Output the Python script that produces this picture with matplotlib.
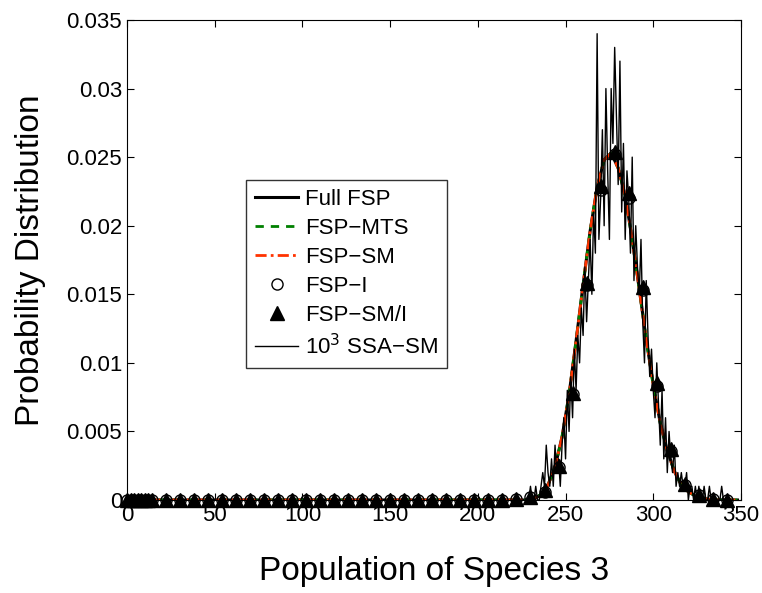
import numpy as np
import matplotlib.pyplot as plt
from matplotlib.ticker import FormatStrFormatter, MultipleLocator

plt.rcParams['font.family'] = ['Liberation Sans', 'DejaVu Sans']

# full FSP solution, every 4 molecules
fsp_x = np.arange(0, 352, 4)
fsp_p = [0.0] * 57 + [
    0.0, 0.0001, 0.0004, 0.0011, 0.0024, 0.0046, 0.0077, 0.0116,
    0.0157, 0.0196, 0.0228, 0.0248, 0.0253, 0.0242, 0.0222, 0.0190,
    0.0154, 0.0117, 0.0084, 0.0056, 0.0036, 0.0021, 0.0011, 0.0006,
    0.0003, 0.0001, 0.00005, 0.0, 0.0, 0.0, 0.0,
]

# marker points (FSP-I and FSP-SM/I)
mk_x = [0, 2, 4, 6, 8, 10, 12, 14] + list(range(22, 343, 8))
mk_i = [0.0] * 33 + [
    0.00005, 0.0002, 0.0006, 0.0024, 0.0077, 0.0157, 0.0226, 0.0252,
    0.0220, 0.0153, 0.0083, 0.0036, 0.0011, 0.0004, 0.0001, 0.0,
]
mk_smi = [0.0] * 33 + [
    0.00005, 0.0002, 0.0007, 0.0025, 0.0078, 0.0158, 0.0229, 0.0254,
    0.0224, 0.0155, 0.0085, 0.0037, 0.0012, 0.0004, 0.0001, 0.0,
]

# 10^3 SSA samples histogram
ssa_x = np.arange(228, 346)
ssa_p = [
    0, 0, 0.001, 0, 0, 0.001, 0, 0, 0.001, 0.002,
    0.001, 0.004, 0.002, 0.001, 0.003, 0.001, 0.004, 0.002, 0.003, 0.001,
    0.004, 0.006, 0.003, 0.008, 0.005, 0.009, 0.006, 0.011, 0.008, 0.012,
    0.010, 0.014, 0.012, 0.017, 0.013, 0.016, 0.019, 0.015, 0.021, 0.018,
    0.034, 0.019, 0.022, 0.027, 0.020, 0.030, 0.024, 0.019, 0.030, 0.026,
    0.033, 0.028, 0.023, 0.032, 0.021, 0.026, 0.019, 0.024, 0.022, 0.018,
    0.025, 0.016, 0.020, 0.017, 0.015, 0.019, 0.013, 0.010, 0.016, 0.012,
    0.009, 0.011, 0.008, 0.006, 0.010, 0.007, 0.004, 0.008, 0.003, 0.006,
    0.002, 0.005, 0.003, 0.002, 0.004, 0.001, 0.002, 0.001, 0.002, 0.001,
    0.001, 0.002, 0, 0.001, 0.001, 0, 0.001, 0, 0.001, 0,
    0, 0.001, 0, 0, 0.001, 0, 0, 0, 0, 0,
    0, 0.001, 0, 0, 0, 0, 0, 0,
]

fig = plt.figure(figsize=(7.62, 5.93), dpi=100)
ax = fig.add_axes([0.1667, 0.1568, 0.8057, 0.8095])

ax.plot(fsp_x, fsp_p, color='black', lw=2.2, label='Full FSP')
ax.plot(fsp_x, fsp_p, color='#008000', lw=2, ls=(0, (3, 2.5)), label='FSP\u2212MTS')
ax.plot(fsp_x, fsp_p, color='#ff3300', lw=2, ls=(0, (4, 1.5, 1, 1.5)), label='FSP\u2212SM')
ax.plot(mk_x, mk_i, ls='none', marker='o', ms=8, mfc='none', mec='black',
        mew=1, label='FSP\u2212I', clip_on=False)
ax.plot(mk_x, mk_smi, ls='none', marker='^', ms=10, mfc='black', mec='black',
        label='FSP\u2212SM/I', clip_on=False)
ax.plot(ssa_x, ssa_p, color='black', lw=1, label='10$^3$ SSA\u2212SM')

ax.set_xlim(0, 350)
ax.set_ylim(0, 0.035)
ax.xaxis.set_major_locator(MultipleLocator(50))
ax.yaxis.set_major_locator(MultipleLocator(0.005))
ax.yaxis.set_major_formatter(FormatStrFormatter('%g'))
ax.tick_params(direction='in', top=True, right=True, labelsize=16, length=5)
ax.set_xlabel('Population of Species 3', fontsize=24, labelpad=22)
ax.set_ylabel('Probability Distribution', fontsize=24, labelpad=15)

leg = ax.legend(loc='upper left', bbox_to_anchor=(0.194, 0.667), fontsize=16,
                frameon=True, fancybox=False, edgecolor='black',
                borderaxespad=0, borderpad=0.4, handlelength=1.95,
                handletextpad=0.3, labelspacing=0.36)
leg.get_frame().set_linewidth(1)

fig.savefig('out.png')
